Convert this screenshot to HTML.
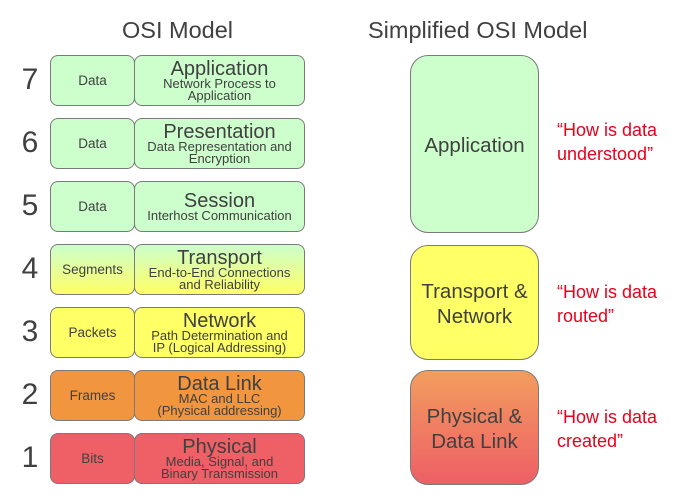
<!DOCTYPE html>
<html><head><style>
body{margin:0;width:697px;height:499px;background:#fff;position:relative;font-family:"Liberation Sans",Arial,sans-serif;color:#404040;overflow:hidden}
.a{position:absolute}
.b{position:absolute;border:1px solid #7a7a7a;border-radius:8px;box-sizing:border-box;display:flex;flex-direction:column;align-items:center;justify-content:center;text-align:center}
.s{font-size:13.5px}
.t{font-size:20px;line-height:18px}
.d{font-size:13px;line-height:12px}
.n{font-size:30px;left:17px;width:26px;text-align:center}
.q{color:#e8001c;font-size:18px;line-height:24px;left:557px}
.big{font-size:20.5px;line-height:25px;border-radius:18px;padding-top:3px}
</style></head><body>
<div class="a" style="left:122px;top:17px;font-size:23.5px">OSI Model</div>
<div class="a" style="left:368px;top:17px;font-size:23.5px">Simplified OSI Model</div>

<div class="a n" style="top:63px">7</div>
<div class="a n" style="top:126px">6</div>
<div class="a n" style="top:189px">5</div>
<div class="a n" style="top:252px">4</div>
<div class="a n" style="top:315px">3</div>
<div class="a n" style="top:378px">2</div>
<div class="a n" style="top:441px">1</div>

<div class="b s" style="left:50px;top:55px;width:85px;height:51px;background:#ccffcc">Data</div>
<div class="b" style="left:134px;top:55px;width:171px;height:51px;background:#ccffcc"><div class="t">Application</div><div class="d">Network Process to<br>Application</div></div>

<div class="b s" style="left:50px;top:118px;width:85px;height:51px;background:#ccffcc">Data</div>
<div class="b" style="left:134px;top:118px;width:171px;height:51px;background:#ccffcc"><div class="t">Presentation</div><div class="d">Data Representation and<br>Encryption</div></div>

<div class="b s" style="left:50px;top:181px;width:85px;height:51px;background:#ccffcc">Data</div>
<div class="b" style="left:134px;top:181px;width:171px;height:51px;background:#ccffcc"><div class="t">Session</div><div class="d">Interhost Communication</div></div>

<div class="b s" style="left:50px;top:244px;width:85px;height:51px;background:linear-gradient(#ccffcc,#ffff66)">Segments</div>
<div class="b" style="left:134px;top:244px;width:171px;height:51px;background:linear-gradient(#ccffcc,#ffff66)"><div class="t">Transport</div><div class="d">End-to-End Connections<br>and Reliability</div></div>

<div class="b s" style="left:50px;top:307px;width:85px;height:51px;background:#ffff66">Packets</div>
<div class="b" style="left:134px;top:307px;width:171px;height:51px;background:#ffff66"><div class="t">Network</div><div class="d">Path Determination and<br>IP (Logical Addressing)</div></div>

<div class="b s" style="left:50px;top:370px;width:85px;height:51px;background:#f2953f">Frames</div>
<div class="b" style="left:134px;top:370px;width:171px;height:51px;background:#f2953f"><div class="t">Data Link</div><div class="d">MAC and LLC<br>(Physical addressing)</div></div>

<div class="b s" style="left:50px;top:433px;width:85px;height:51px;background:#ee5f66">Bits</div>
<div class="b" style="left:134px;top:433px;width:171px;height:51px;background:#ee5f66"><div class="t">Physical</div><div class="d">Media, Signal, and<br>Binary Transmission</div></div>

<div class="b big" style="left:410px;top:55px;width:129px;height:178px;background:#ccffcc">Application</div>
<div class="b big" style="left:410px;top:245px;width:129px;height:115px;background:#ffff66">Transport &amp;<br>Network</div>
<div class="b big" style="left:410px;top:370px;width:129px;height:115px;background:linear-gradient(#f29d5e,#ee5f66)">Physical &amp;<br>Data Link</div>

<div class="a q" style="top:118px">“How is data<br>understood”</div>
<div class="a q" style="top:280px">“How is data<br>routed”</div>
<div class="a q" style="top:405px">“How is data<br>created”</div>
</body></html>
